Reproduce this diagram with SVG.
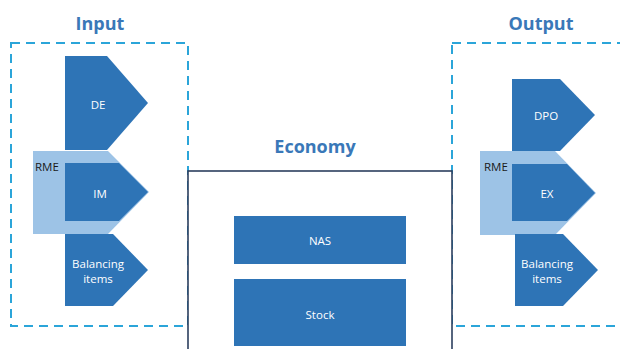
<svg xmlns="http://www.w3.org/2000/svg" width="620" height="349" viewBox="0 0 620 349">
  <style>
    .frame { fill: none; stroke: #2ba5d9; stroke-width: 2; stroke-dasharray: 9 6; }
    .title { font-family: "Open Sans", "Liberation Sans", sans-serif; font-weight: bold; font-size: 18px; fill: #3a78b8; text-anchor: middle; }
    .dark { fill: #2e74b6; }
    .light { fill: #9dc3e6; }
    .lbl { font-family: "Open Sans", "Liberation Sans", sans-serif; font-size: 11.5px; fill: #ffffff; text-anchor: middle; dominant-baseline: central; }
    .rme { font-family: "Open Sans", "Liberation Sans", sans-serif; font-size: 11.5px; fill: #1a1a1a; dominant-baseline: central; }
    .econ { fill: #ffffff; stroke: #2c3f5e; stroke-width: 1.6; }
  </style>
  <rect width="620" height="349" fill="#ffffff"/>

  <!-- Input side -->
  <g id="input">
    <rect class="frame" x="11" y="43" width="177" height="283"/>
    <text class="title" x="100" y="30">Input</text>
  </g>
  <g id="input-rme">
    <polygon class="light" points="33,151 108,151 149,192 108,234 33,234"/>
    <text class="rme" x="35" y="166">RME</text>
  </g>
  <g id="input-de">
    <polygon class="dark" points="65,56 107,56 148,103 107,150 65,150"/>
    <text class="lbl" x="98" y="104">DE</text>
  </g>
  <g id="input-im">
    <polygon class="dark" points="65,163 119,163 148,192 119,221 65,221"/>
    <text class="lbl" x="100" y="193">IM</text>
  </g>
  <g id="input-balancing">
    <polygon class="dark" points="65,234 113,234 148,270 113,306 65,306"/>
    <text class="lbl" x="98" y="263">Balancing</text>
    <text class="lbl" x="98" y="278">items</text>
  </g>

  <!-- Output side -->
  <g id="output">
    <rect class="frame" x="452" y="43" width="180" height="283"/>
    <text class="title" x="541" y="30">Output</text>
  </g>
  <g id="output-rme">
    <polygon class="light" points="480,151 555,151 596,193 555,235 480,235"/>
    <text class="rme" x="484" y="166">RME</text>
  </g>
  <g id="output-dpo">
    <polygon class="dark" points="512,79 560,79 595,115 560,151 512,151"/>
    <text class="lbl" x="546" y="115">DPO</text>
  </g>
  <g id="output-ex">
    <polygon class="dark" points="512,164 567,164 595,193 567,221 512,221"/>
    <text class="lbl" x="547" y="193">EX</text>
  </g>
  <g id="output-balancing">
    <polygon class="dark" points="515,234 563,234 598,270 563,306 515,306"/>
    <text class="lbl" x="547" y="263">Balancing</text>
    <text class="lbl" x="547" y="278">items</text>
  </g>

  <!-- Economy -->
  <g id="economy">
    <rect class="econ" x="188" y="171" width="264" height="190"/>
    <text class="title" x="315" y="153">Economy</text>
  </g>
  <g id="nas">
    <rect class="dark" x="234" y="216" width="172" height="48"/>
    <text class="lbl" x="320" y="240">NAS</text>
  </g>
  <g id="stock">
    <rect class="dark" x="234" y="279" width="172" height="67"/>
    <text class="lbl" x="320" y="314">Stock</text>
  </g>

  <g id="connectors"></g>
</svg>
